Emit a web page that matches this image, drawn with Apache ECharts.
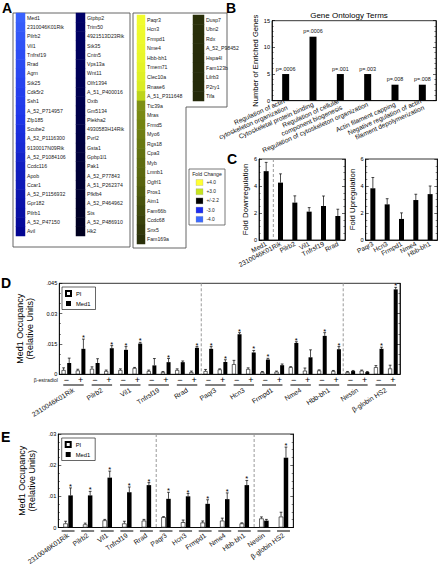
<!DOCTYPE html>
<html><head><meta charset="utf-8">
<script src="https://cdn.jsdelivr.net/npm/echarts@6/dist/echarts.min.js"></script>
<style>html,body{margin:0;padding:0;background:#fff}#c{width:438px;height:568px}</style>
</head><body><div id="c"></div>
<script>
// ---------- Panel A : gene lists with fold change ----------
const aCol1Genes = ['Med1','2310046K01Rik','Pilrb2','Vil1','Tnfrsf19','Rrad','Agrn','Stk25','Cdk5r2','Ssh1','A_52_P714957','Zfp185','Scube2','A_52_P1116300','9130017N09Rik','A_52_P1084106','Ccdc116','Apob','Ccar1','A_52_P1156932','Gpr182','Pilrb1','A_52_P47150','Avil'];
const aCol1Fold = [-4.9,-4.8,-4.7,-4.6,-4.5,-4.45,-4.4,-4.3,-4.2,-4.15,-4.1,-4.0,-3.9,-3.85,-3.8,-3.7,-3.6,-3.55,-3.5,-3.4,-3.35,-3.3,-3.2,-3.1];
const aCol2Genes = ['Gtpbp2','Trim50','4921513D23Rik','Stk35','Cntn5','Vps13a','Wnt11','Olfr1394','A_51_P400016','Oxtb','Gm5134','Plekha2','4930583H14Rik','Pvrl2','Gsta1','Gpbp1l1','Pak1','A_52_P77843','A_51_P262374','Pfkfb4','A_52_P464962','Sts','A_52_P486910','Hk2'];
const aCol2Fold = [-2.75,-2.73,-2.71,-2.69,-2.67,-2.65,-2.63,-2.6,-2.58,-2.56,-2.54,-2.52,-2.5,-2.47,-2.45,-2.43,-2.41,-2.38,-2.36,-2.34,-2.31,-2.28,-2.25,-2.22];
const aCol3Genes = ['Paqr3','Hcn3','Frmpd1','Nme4','Hbb-bh1','Tmem71','Clec10a','Rnase6','A_51_P311648','Ttc39a','Mras','Frmd5','Myo6','Rgs18','Cpa3','Myb','Lmnb1','Ogfrl1','Pros1','Aim1','Fam66b','Ccdc68','Snx5','Fam169a'];
const aCol3Fold = [4.9,4.85,4.8,4.75,4.7,4.6,4.5,4.4,3.9,3.3,3.25,3.2,3.15,3.1,3.05,3.0,2.95,2.9,2.8,2.7,2.6,2.5,2.4,2.3];
const aCol4Genes = ['Dusp7','Ubn2','Rdx','A_52_P98452','Hspa4l','Fam123b','Lilrb3','P2ry1','Tifa'];
const aCol4Fold = [2.3,2.29,2.28,2.27,2.26,2.25,2.24,2.23,2.22];
const foldLegendLabels = ['+4.0','+3.0','+/-2.2','-3.0','-4.0'];

// ---------- Panel B ----------
const bTerms = ['Regulation of actin\ncytoskeleton organization','Cytoskeletal protein binding','Regulation of cellular\ncomponent biogenesis','Regulation of cytoskeleton organization','Actin filament capping','Negative regulation of actin\nfilament depolymerization'];
const bCounts = [5, 12, 5, 5, 3, 3];
const bPvals = ['p=.0006','p=.0006','p=.001','p=.003','p=.008','p=.008'];
const bTicks = ['0','5','10','15'];

// ---------- Panel C ----------
const cDownGenes = ['Med1','2310046K01Rik','Pilrb2','Vil1','Tnfrsf19','Rrad'];
const cDown = [5.1, 4.25, 2.77, 2.1, 2.52, 1.78];
const cDownErr = [0.65, 0.65, 0.5, 0.3, 0.74, 0.5];
const cUpGenes = ['Paqr3','Hcn3','Frmpd1','Nme4','Hbb-bh1'];
const cUp = [3.83, 2.64, 1.56, 2.96, 3.4];
const cUpErr = [0.8, 0.42, 0.45, 0.43, 0.6];
const cTicks = ['0','2','4','6'];

// ---------- Panel D ----------
const dGenes = ['2310046K01Rik','Pilrb2','Vil1','Tnfrsf19','Rrad','Paqr3','Hcn3','Frmpd1','Nme4','Hbb-bh1','Nestin','\u03b2-globin HS2'];
const dTreatment = ['\u2212','+'];
const dPI     = [0.0021,0.0019, 0.0027,0.0016, 0.0021,0.0031, 0.0016,0.0011, 0.0021,0.0011, 0.0016,0.0024, 0.0050,0.0026, 0.0011,0.0013, 0.0035,0.0018, 0.0019,0.0016, 0.0011,0.0018, 0.0035,0.0029];
const dPIErr  = [0.0011,0.0006, 0.0010,0.0005, 0.0006,0.0003, 0.0005,0.0003, 0.0006,0.0005, 0.0008,0.0003, 0.0019,0.0006, 0.0003,0.0003, 0.0003,0.0013, 0.0003,0.0003, 0.0003,0.0003, 0.0008,0.0016];
const dMed1   = [0.0056,0.0126, 0.0056,0.0129, 0.0121,0.0152, 0.0044,0.0060, 0.0060,0.0131, 0.0126,0.0061, 0.0198,0.0108, 0.0073,0.0045, 0.0155,0.0084, 0.0190,0.0124, 0.0016,0.0011, 0.0126,0.0420];
const dMed1Err= [0.0024,0.0048, 0.0021,0.0013, 0.0016,0.0006, 0.0034,0.0018, 0.0006,0.0006, 0.0011,0.0011, 0.0008,0.0010, 0.0006,0.0006, 0.0006,0.0037, 0.0016,0.0013, 0.0003,0.0003, 0.0008,0.0010];
const dMed1Star=[0,1, 0,1, 1,1, 0,1, 0,1, 1,1, 1,1, 1,0, 1,0, 1,1, 0,0, 1,1];
const dTicks = ['0','.015','0.03','.045'];

// ---------- Panel E ----------
const eGenes = ['2310046K01Rik','Pilrb2','Vil1','Tnfrsf19','Rrad','Paqr3','Hcn3','Frmpd1','Nme4','Hbb-bh1','Nestin','\u03b2-globin HS2'];
const ePI     = [0.0013,0.0010,0.0023,0.0013,0.0022,0.0033,0.0017,0.0016,0.0022,0.0013,0.0029,0.0035];
const ePIErr  = [0.0007,0.0004,0.0003,0.0007,0.0004,0.0002,0.0007,0.0005,0.0008,0.0002,0.0005,0.0014];
const eMed1   = [0.0103,0.0103,0.0160,0.0113,0.0136,0.0092,0.0100,0.0076,0.0091,0.0136,0.0022,0.0224];
const eMed1Err= [0.0024,0.0013,0.0021,0.0017,0.0008,0.0021,0.0009,0.0013,0.0020,0.0015,0.0004,0.0034];
const eMed1Star=[1,1,1,1,1,1,1,1,1,1,0,1];
const eTicks = ['0','.01','.02','.03'];

// ================= build =================
const FONT = 'Liberation Sans, Arial, sans-serif';
const BLACK = '#000';

function heatGridAxes(i, genes) {
  return {
    x: {type:'category', gridIndex:i, data:['fc'], show:false},
    y: {type:'category', gridIndex:i, data:genes, inverse:true, position:'right',
        axisLine:{show:false}, axisTick:{show:false},
        axisLabel:{interval:0, fontSize:5.2, margin:2, color:'#222'}}
  };
}
function valAxis(gi, min, max, interval, minorSplit, labels, extra) {
  return Object.assign({
    type:'value', gridIndex:gi, min, max, interval,
    splitLine:{show:false},
    axisLine:{show:true, lineStyle:{color:BLACK, width:0.8}},
    axisTick:{show:true, inside:true, length:3, lineStyle:{color:BLACK, width:0.6}},
    minorTick:{show:true, splitNumber:minorSplit, length:1.6, lineStyle:{color:BLACK, width:0.5}},
    minorSplitLine:{show:false},
    axisLabel:{fontSize:5.6, margin:2, color:BLACK, formatter:(v)=>labels[Math.round((v-min)/interval)]}
  }, extra || {});
}
function rightAxis(gi, min, max, interval, minorSplit) {
  return {
    type:'value', gridIndex:gi, min, max, interval, position:'right',
    splitLine:{show:false},
    axisLine:{show:true, lineStyle:{color:BLACK, width:0.8}},
    axisTick:{show:true, inside:true, length:3, lineStyle:{color:BLACK, width:0.6}},
    minorTick:{show:true, splitNumber:minorSplit, length:1.6, lineStyle:{color:BLACK, width:0.5}},
    axisLabel:{show:false}
  };
}
function errSeries(xi, yi, vals, errs, stars, offset) {
  return {
    type:'custom', xAxisIndex:xi, yAxisIndex:yi, silent:true, z:5, clip:false,
    data: vals.map((v,i)=>[i, v, errs[i], stars ? stars[i] : 0]),
    encode:{x:0, y:1},
    renderItem(params, api) {
      const idx=api.value(0), v=api.value(1), e=api.value(2), s=api.value(3);
      const p0=api.coord([idx,v]), p1=api.coord([idx,v+e]);
      const x=p0[0]+offset, cap=1.4;
      const ch=[
        {type:'line', shape:{x1:x,y1:p0[1],x2:x,y2:p1[1]}, style:{stroke:BLACK,lineWidth:0.7}},
        {type:'line', shape:{x1:x-cap,y1:p1[1],x2:x+cap,y2:p1[1]}, style:{stroke:BLACK,lineWidth:0.7}}
      ];
      if (s) ch.push({type:'text', style:{text:'*', x:x, y:p1[1]+2.5, align:'center', verticalAlign:'bottom', fontSize:7.5, fontFamily:FONT, fill:BLACK}});
      return {type:'group', children:ch};
    }
  };
}
function sepSeries(xi, yi, afterIdx) {
  return {
    type:'custom', xAxisIndex:xi, yAxisIndex:yi, silent:true, z:1, clip:false,
    data: afterIdx.map(i=>[i,0]), encode:{x:0,y:1},
    renderItem(params, api) {
      const c=api.coord([api.value(0),0]); const w=api.size([1,0])[0];
      const cs=params.coordSys; const x=c[0]+w/2;
      return {type:'line', shape:{x1:x,y1:cs.y,x2:x,y2:cs.y+cs.height}, style:{stroke:'#9a9a9a', lineWidth:1, lineDash:[3,2]}};
    }
  };
}
function underlineSeries(xi, yi, genes, yOff, frac) {
  return {
    type:'custom', xAxisIndex:xi, yAxisIndex:yi, silent:true, clip:false,
    data: genes.map((g,i)=>[i,0]), encode:{x:0,y:1},
    renderItem(params, api) {
      const c=api.coord([api.value(0),0]); const w=api.size([1,0])[0];
      const cs=params.coordSys; const y=cs.y+cs.height+yOff;
      return {type:'line', shape:{x1:c[0]-w*frac,y1:y,x2:c[0]+w*frac,y2:y}, style:{stroke:BLACK, lineWidth:1}};
    }
  };
}

const h1=heatGridAxes(0,aCol1Genes), h2=heatGridAxes(1,aCol2Genes), h3=heatGridAxes(2,aCol3Genes), h4=heatGridAxes(3,aCol4Genes);
const G = (o)=>Object.assign({containLabel:false, outerBoundsMode:'none', show:false}, o);
const boxed = {show:true, borderColor:BLACK, borderWidth:0.8, backgroundColor:'transparent'};

const dCats = [];
dGenes.forEach(g=>dTreatment.forEach(t=>dCats.push(g+' '+t)));

const option = {
  animation:false,
  textStyle:{fontFamily:FONT},
  grid:[
    G({left:16, top:13, width:9, height:223}),
    G({left:76, top:13, width:9, height:223}),
    G({left:137, top:15, width:8, height:229}),
    G({left:193, top:15, width:11, height:86}),
    G(Object.assign({left:272, top:20.7, width:164, height:80}, boxed)),
    G(Object.assign({left:259, top:159, width:86, height:81}, boxed)),
    G(Object.assign({left:365.7, top:159, width:71.6, height:81}, boxed)),
    G(Object.assign({left:59.3, top:283.3, width:340.7, height:91}, boxed)),
    G(Object.assign({left:58.3, top:434, width:235, height:93.5}, boxed))
  ],
  xAxis:[
    h1.x, h2.x, h3.x, h4.x,
    {type:'category', gridIndex:4, data:bTerms, axisLine:{lineStyle:{color:BLACK,width:0.8}}, axisTick:{show:false},
      axisLabel:{interval:0, rotate:24, fontSize:6.6, lineHeight:7.2, margin:3, color:'#111'}},
    {type:'category', gridIndex:5, data:cDownGenes, axisLine:{lineStyle:{color:BLACK,width:0.8}}, axisTick:{show:false},
      axisLabel:{interval:0, rotate:28, fontSize:6.6, margin:3, color:'#111'}},
    {type:'category', gridIndex:6, data:cUpGenes, axisLine:{lineStyle:{color:BLACK,width:0.8}}, axisTick:{show:false},
      axisLabel:{interval:0, rotate:28, fontSize:6.6, margin:3, color:'#111'}},
    {type:'category', gridIndex:7, data:dCats, axisLine:{lineStyle:{color:BLACK,width:0.8}}, axisTick:{show:false},
      axisLabel:{interval:0, fontSize:9, margin:1, color:BLACK, formatter:(v,i)=>dTreatment[i%2]}},
    {type:'category', gridIndex:7, data:dGenes, position:'bottom', offset:13, axisLine:{show:false}, axisTick:{show:false},
      axisLabel:{interval:0, rotate:32, fontSize:6.8, margin:2, color:'#111'}},
    {type:'category', gridIndex:8, data:eGenes, axisLine:{lineStyle:{color:BLACK,width:0.8}}, axisTick:{show:false},
      axisLabel:{interval:0, rotate:35, fontSize:6.8, margin:7, color:'#111'}}
  ],
  yAxis:[
    h1.y, h2.y, h3.y, h4.y,
    valAxis(4, 0, 15, 5, 5, bTicks, {name:'Number of Enriched Genes', nameLocation:'middle', nameGap:10, nameTextStyle:{fontSize:7.6, color:BLACK}}),
    rightAxis(4, 0, 15, 5, 5),
    valAxis(5, 0, 6, 2, 4, cTicks, {name:'Fold Downregulation', nameLocation:'middle', nameGap:6, nameTextStyle:{fontSize:7.8, color:BLACK}}),
    rightAxis(5, 0, 6, 2, 4),
    valAxis(6, 0, 6, 2, 4, cTicks, {name:'Fold Upregulation', nameLocation:'middle', nameGap:7, nameTextStyle:{fontSize:7.8, color:BLACK}}),
    rightAxis(6, 0, 6, 2, 4),
    valAxis(7, 0, 0.045, 0.015, 3, dTicks, {name:'Med1 Occupancy\n(Relative Units)', nameLocation:'middle', nameGap:14, nameTextStyle:{fontSize:9, lineHeight:10.5, color:BLACK}}),
    rightAxis(7, 0, 0.045, 0.015, 3),
    valAxis(8, 0, 0.03, 0.01, 4, eTicks, {name:'Med1 Occupancy\n(Relative Units)', nameLocation:'middle', nameGap:15, nameTextStyle:{fontSize:9, lineHeight:10.5, color:BLACK}}),
    rightAxis(8, 0, 0.03, 0.01, 4)
  ],
  visualMap:{
    type:'continuous', show:false, min:-5, max:5, dimension:2, seriesIndex:[0,1,2,3],
    inRange:{color:['#3c66ff','#1e34e8','#000088','#000000','#000000','#000000','#000000','#141608','#5e6c10','#c8e01c','#f6ff30']}
  },
  legend:[
    {data:['PI','Med1'], left:62, top:287, orient:'vertical', icon:'rect', itemWidth:5, itemHeight:5, itemGap:3.5, padding:[3,5,3,3], borderColor:BLACK, borderWidth:0.6, selectedMode:false, textStyle:{fontSize:5.8, color:BLACK}},
    {data:['PI','Med1'], left:61.7, top:438, orient:'vertical', icon:'rect', itemWidth:5, itemHeight:5, itemGap:3.5, padding:[3,5,3,3], borderColor:BLACK, borderWidth:0.6, selectedMode:false, textStyle:{fontSize:5.8, color:BLACK}}
  ],
  series:[]
};

const heat = (i, fold)=>({type:'heatmap', xAxisIndex:i, yAxisIndex:i, silent:true, itemStyle:{borderWidth:0}, data: fold.map((f,r)=>[0,r,f])});
const PIstyle = {color:'#fff', borderColor:BLACK, borderWidth:0.6};
const MEDstyle = {color:'#000'};
option.series = [
  heat(0,aCol1Fold), heat(1,aCol2Fold), heat(2,aCol3Fold), heat(3,aCol4Fold),
  {type:'bar', xAxisIndex:4, yAxisIndex:4, data:bCounts, barWidth:7, itemStyle:{color:'#000'}, silent:true,
    label:{show:true, position:'top', distance:3, fontSize:5.4, color:'#111', formatter:(p)=>bPvals[p.dataIndex]}},
  {type:'bar', xAxisIndex:5, yAxisIndex:6, data:cDown, barWidth:5, itemStyle:{color:'#000'}, silent:true},
  errSeries(5, 6, cDown, cDownErr, null, 0),
  sepSeries(5, 6, [0]),
  {type:'bar', xAxisIndex:6, yAxisIndex:8, data:cUp, barWidth:5, itemStyle:{color:'#000'}, silent:true},
  errSeries(6, 8, cUp, cUpErr, null, 0),
  {name:'PI', type:'bar', xAxisIndex:7, yAxisIndex:10, data:dPI, barWidth:4, barGap:'40%', itemStyle:PIstyle, silent:true},
  {name:'Med1', type:'bar', xAxisIndex:7, yAxisIndex:10, data:dMed1, barWidth:4, barGap:'40%', itemStyle:MEDstyle, silent:true},
  errSeries(7, 10, dPI, dPIErr, null, -2.8),
  errSeries(7, 10, dMed1, dMed1Err, dMed1Star, 2.8),
  sepSeries(7, 10, [9, 19]),
  underlineSeries(8, 10, dGenes, 10.7, 0.36),
  {name:'PI', type:'bar', xAxisIndex:9, yAxisIndex:12, data:ePI, barWidth:4.5, barGap:'10%', itemStyle:PIstyle, silent:true},
  {name:'Med1', type:'bar', xAxisIndex:9, yAxisIndex:12, data:eMed1, barWidth:4.5, barGap:'10%', itemStyle:MEDstyle, silent:true},
  errSeries(9, 12, ePI, ePIErr, null, -2.475),
  errSeries(9, 12, eMed1, eMed1Err, eMed1Star, 2.475),
  sepSeries(9, 12, [4, 9]),
  underlineSeries(9, 12, eGenes, 3.5, 0.33)
];

// graphic: panel letters, frames, fold change legend
const legendColors = ['#ffff33','#c6e41e','#000000','#1c2cf0','#3a68ff'];
const gEls = [];
const letter = (t,x,y)=>gEls.push({type:'text', x:x, y:y, style:{text:t, fontSize:14, fontWeight:'bold', fontFamily:FONT, fill:BLACK, align:'left', verticalAlign:'top'}});
letter('A',2,0.5); letter('B',226,0.5); letter('C',227,152); letter('D',1,275.5); letter('E',1,429.5);
gEls.push({type:'text', x:349, y:15, style:{text:'Gene Ontology Terms', fontSize:8, fontFamily:FONT, fill:BLACK, align:'center', verticalAlign:'middle'}});
gEls.push({type:'rect', shape:{x:13, y:13, width:117, height:234}, style:{fill:'none', stroke:'#555', lineWidth:0.9}});
gEls.push({type:'polyline', shape:{points:[[133,13],[227,13],[227,107],[186,107],[186,248],[133,248],[133,13]]}, style:{fill:'none', stroke:'#555', lineWidth:0.9}});
gEls.push({type:'rect', shape:{x:189, y:169, width:36, height:56}, style:{fill:'none', stroke:'#555', lineWidth:0.8}});
gEls.push({type:'text', x:207, y:173.5, style:{text:'Fold Change', fontSize:5.2, fontFamily:FONT, fill:'#222', align:'center', verticalAlign:'middle'}});
foldLegendLabels.forEach((lab,i)=>{
  const y = 182.5 + i*9.2;
  gEls.push({type:'rect', shape:{x:196, y:y-3, width:7, height:6}, style:{fill:legendColors[i], stroke:'#999', lineWidth:0.3}});
  gEls.push({type:'text', x:206.5, y:y, style:{text:lab, fontSize:4.8, fontFamily:FONT, fill:'#222', align:'left', verticalAlign:'middle'}});
});
gEls.push({type:'text', x:58, y:379.5, style:{text:'\u03b2-estradiol', fontSize:5.2, fontFamily:FONT, fill:'#222', align:'right', verticalAlign:'middle'}});
option.graphic = {elements:gEls};

const chart = echarts.init(document.getElementById('c'), null, {renderer:'svg', width:438, height:568});
chart.setOption(option);
</script>
</body></html>
